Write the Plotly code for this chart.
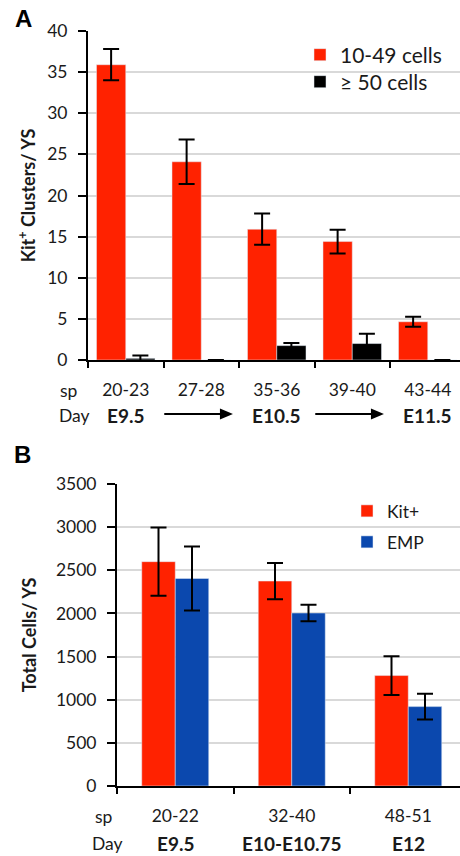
import plotly.graph_objects as go

# ---------------- data: panel A ----------------
sp_A = ["20-23", "27-28", "35-36", "39-40", "43-44"]
day_A = ["E9.5", "", "E10.5", "", "E11.5"]
arrow_A = [1, 3]  # categories that carry an arrow in the Day row
small_vals = [35.9, 24.1, 15.9, 14.4, 4.65]
small_err = [1.9, 2.7, 1.9, 1.45, 0.6]
large_vals = [0.2, 0.0, 1.75, 2.0, 0.0]
large_err = [0.35, None, 0.33, 1.2, None]
yticks_A = [0, 5, 10, 15, 20, 25, 30, 35, 40]

# ---------------- data: panel B ----------------
sp_B = ["20-22", "32-40", "48-51"]
day_B = ["E9.5", "E10-E10.75", "E12"]
kit_vals = [2600, 2375, 1280]
kit_err = [395, 210, 225]
emp_vals = [2405, 2005, 920]
emp_err = [370, 95, 150]
yticks_B = [0, 500, 1000, 1500, 2000, 2500, 3000, 3500]

RED = "#ff2200"
BLUE = "#0b48ae"
BLACK = "#000000"
TXT = "#1a1a1a"
FONT = "Lato"
FS = 17.5

W, H = 460, 856
def px(x):
    return x / W
def py(y):
    return 1 - y / H

fig = go.Figure()

err_style = dict(type="data", color=BLACK, thickness=2, width=8, visible=True)

fig.add_trace(go.Bar(x=sp_A, y=small_vals, name="10-49 cells", marker_color=RED,
                     error_y=dict(array=small_err, **err_style),
                     xaxis="x", yaxis="y", legend="legend"))
fig.add_trace(go.Bar(x=sp_A, y=large_vals, name="\u2265 50 cells", marker_color=BLACK,
                     error_y=dict(array=large_err, **err_style),
                     xaxis="x", yaxis="y", legend="legend2"))
fig.add_trace(go.Bar(x=sp_B, y=kit_vals, name="Kit+", marker_color=RED,
                     error_y=dict(array=kit_err, **err_style),
                     xaxis="x2", yaxis="y2", legend="legend3"))
fig.add_trace(go.Bar(x=sp_B, y=emp_vals, name="EMP", marker_color=BLUE,
                     error_y=dict(array=emp_err, **err_style),
                     xaxis="x2", yaxis="y2", legend="legend4"))

catA_w = 75.5
catB_w = 116.5
axA_left, axB_left = 88, 117

common_x = dict(type="category", showline=True, linecolor=BLACK, linewidth=2,
                ticks="outside", tickson="boundaries", ticklen=6, tickwidth=2,
                tickcolor=BLACK, showgrid=False, zeroline=False, automargin=False,
                tickfont=dict(family=FONT, size=FS, color=TXT), ticklabelstandoff=13)
common_y = dict(showline=True, linecolor=BLACK, linewidth=2, ticks="outside",
                ticklen=8, tickwidth=2, tickcolor=BLACK, showgrid=True,
                gridcolor="#d9d9d9", gridwidth=1.5, zeroline=False, automargin=False,
                tickfont=dict(family=FONT, size=FS, color=TXT), ticklabelstandoff=7)

def leg(x, y, size):
    return dict(x=px(x), y=py(y), xanchor="left", yanchor="middle",
                bgcolor="rgba(0,0,0,0)", font=dict(family=FONT, size=size, color=TXT),
                itemwidth=30)

fig.update_layout(
    width=W, height=H, margin=dict(l=0, r=0, t=0, b=0, autoexpand=False),
    paper_bgcolor="white", plot_bgcolor="white",
    barmode="group", font=dict(family=FONT, color=TXT),
    xaxis=dict(domain=[px(axA_left), 1], anchor="y",
               range=[-0.5, -0.5 + (W - axA_left) / catA_w], **common_x),
    yaxis=dict(domain=[py(360), py(31)], anchor="x", range=[0, 40],
               tickvals=yticks_A,
               title=dict(text="Kit<sup>+</sup> Clusters/ YS", standoff=7,
                          font=dict(family=FONT, size=18, weight="bold", color=TXT)),
               **common_y),
    xaxis2=dict(domain=[px(axB_left), 1], anchor="y2",
                range=[-0.5, -0.5 + (W - axB_left) / catB_w], **common_x),
    yaxis2=dict(domain=[py(786), py(484)], anchor="x2", range=[0, 3500],
                tickvals=yticks_B,
                title=dict(text="Total Cells/ YS", standoff=15,
                           font=dict(family=FONT, size=18, weight="bold", color=TXT)),
                **common_y),
    bargap=0.225, bargroupgap=0,
    legend=leg(300, 55, 21),
    legend2=leg(300, 82, 21),
    legend3=leg(347, 511, 17.5),
    legend4=leg(347, 542, 17.5),
    showlegend=True,
)

# narrower bar groups in panel B
groupB_frac = 67 / catB_w
for i, tr in enumerate(fig.data[2:]):
    tr.width = groupB_frac / 2
    tr.offset = -groupB_frac / 2 + i * groupB_frac / 2

anns = []
anns.append(dict(text="<b>A</b>", x=px(23), y=py(19), xref="paper", yref="paper",
                 xanchor="center", yanchor="middle", showarrow=False,
                 font=dict(family="Liberation Sans", size=24, color=BLACK)))
anns.append(dict(text="<b>B</b>", x=px(22.5), y=py(454), xref="paper", yref="paper",
                 xanchor="center", yanchor="middle", showarrow=False,
                 font=dict(family="Liberation Sans", size=24, color=BLACK)))
for txt, x, y in [("sp", 68.5, 390), ("Day", 74, 415), ("sp", 104, 816), ("Day", 107.5, 843)]:
    anns.append(dict(text=txt, x=px(x), y=py(y), xref="paper", yref="paper",
                     xanchor="center", yanchor="middle", showarrow=False,
                     font=dict(family=FONT, size=FS, color=TXT)))
for i, d in enumerate(day_A):
    if d:
        anns.append(dict(text="<b>%s</b>" % d, x=i, y=py(415), xref="x", yref="paper",
                         xanchor="center", yanchor="middle", showarrow=False,
                         font=dict(family=FONT, size=19, color=TXT)))
for i, d in enumerate(day_B):
    anns.append(dict(text="<b>%s</b>" % d, x=i, y=py(843), xref="x2", yref="paper",
                     xanchor="center", yanchor="middle", showarrow=False,
                     font=dict(family=FONT, size=19, color=TXT)))
fig.update_layout(annotations=anns)

# arrows in the Day row of panel A (line + filled head)
shapes = []
for i in arrow_A:
    shapes.append(dict(type="line", xref="x", yref="paper", x0=i - 0.49, x1=i + 0.3,
                       y0=py(414), y1=py(414), line=dict(color=BLACK, width=2)))
    shapes.append(dict(type="path", xref="x", yref="paper", xsizemode="pixel",
                       ysizemode="pixel", xanchor=i + 0.42, yanchor=py(414),
                       path="M0,0 L-13,5.5 L-13,-5.5 Z", fillcolor=BLACK,
                       line=dict(width=0)))
fig.update_layout(shapes=shapes)

fig.write_html("out.html", config={"displayModeBar": False},
               post_script="document.body.style.margin='0px';document.body.style.overflow='hidden';")
